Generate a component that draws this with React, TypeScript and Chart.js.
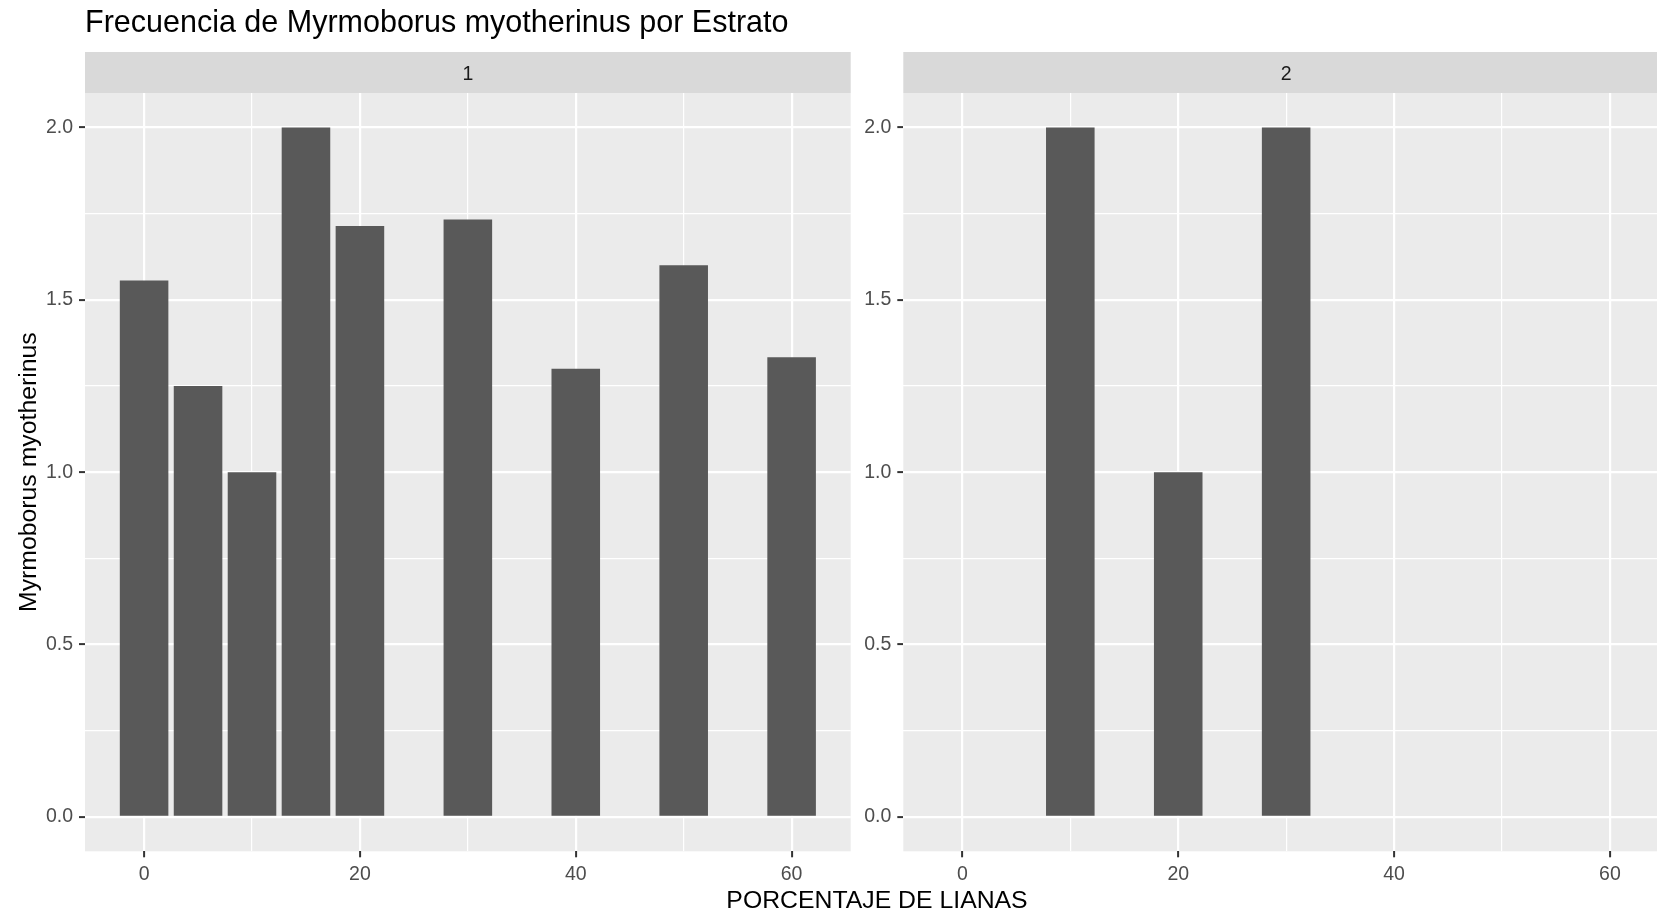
import React, { useEffect, useRef } from "react";
import { Chart, registerables } from "chart.js";

Chart.register(...registerables);

// ---------- data ----------
const TITLE = "Frecuencia de Myrmoborus myotherinus por Estrato";
const X_TITLE = "PORCENTAJE DE LIANAS";
const Y_TITLE = "Myrmoborus myotherinus";
const PANEL_LABELS = ["1", "2"];

const panel1X = [0, 5, 10, 15, 20, 30, 40, 50, 60];
const panel1Y = [1.556, 1.25, 1.0, 2.0, 1.714, 1.733, 1.3, 1.6, 1.333];

const panel2X = [10, 20, 30];
const panel2Y = [2.0, 1.0, 2.0];

const xGridValues = [0, 10, 20, 30, 40, 50, 60];
const xLabelValues = [0, 20, 40, 60];
const yGridValues = [0, 0.25, 0.5, 0.75, 1, 1.25, 1.5, 1.75, 2];
const yLabelValues = [0, 0.5, 1, 1.5, 2];

const X_MIN = -5.475;
const X_MAX = 65.475;
const Y_MIN = -0.1;
const Y_MAX = 2.1;
const BAR_WIDTH = 4.5;

// ---------- style ----------
const FONT = "'Liberation Sans', Arial, sans-serif";
const PANEL_BG = "#EBEBEB";
const STRIP_BG = "#D9D9D9";
const BAR_COLOR = "#595959";
const TICK_TEXT = "#4D4D4D";
const TICK_MARK = "#333333";

const W = 1657;
const H = 917;
const AREA_TOP = 93;
const AREA_BOTTOM = 851.3;

function minGap(values: number[], step: number) {
  let m = step;
  for (let i = 1; i < values.length; i++) m = Math.min(m, values[i] - values[i - 1]);
  return m;
}

function makePlugin(strip: string, drawTitles: boolean) {
  return {
    id: "facet" + strip,
    beforeDraw(chart: any) {
      const { ctx, chartArea } = chart;
      const { left, right, top, bottom } = chartArea;
      ctx.save();
      ctx.fillStyle = PANEL_BG;
      ctx.fillRect(left, top, right - left, bottom - top);
      ctx.fillStyle = STRIP_BG;
      ctx.fillRect(left, top - 41, right - left, 41);
      ctx.fillStyle = "#1A1A1A";
      ctx.font = `19.5px ${FONT}`;
      ctx.textAlign = "center";
      ctx.textBaseline = "alphabetic";
      ctx.fillText(strip, (left + right) / 2, top - 13.5);
      if (drawTitles) {
        ctx.fillStyle = "#000000";
        ctx.textAlign = "left";
        ctx.font = `30.5px ${FONT}`;
        ctx.fillText(TITLE, left, 32);
        ctx.font = `24.8px ${FONT}`;
        ctx.textAlign = "center";
        ctx.fillText(X_TITLE, 877, 908);
        ctx.save();
        ctx.translate(36, (top + bottom) / 2);
        ctx.rotate(-Math.PI / 2);
        ctx.fillText(Y_TITLE, 0, 0);
        ctx.restore();
      }
      ctx.restore();
    },
  };
}

function makeConfig(xs: number[], ys: number[], strip: string, yAxisWidth: number, padRight: number, drawTitles: boolean) {
  const gap = minGap(xs, 10);
  return {
    type: "bar" as const,
    data: {
      datasets: [
        {
          data: xs.map((x, i) => ({ x, y: ys[i] })),
          backgroundColor: BAR_COLOR,
          borderWidth: 0,
          categoryPercentage: 1,
          barPercentage: BAR_WIDTH / gap,
        },
      ],
    },
    options: {
      responsive: false,
      maintainAspectRatio: false,
      animation: false,
      layout: { padding: { left: 0, right: padRight, top: AREA_TOP, bottom: 0 } },
      plugins: { legend: { display: false }, tooltip: { enabled: false }, title: { display: false } },
      scales: {
        x: {
          type: "linear",
          min: X_MIN,
          max: X_MAX,
          offset: false,
          afterBuildTicks: (scale: any) => {
            scale.ticks = xGridValues.map((v) => ({ value: v }));
          },
          afterFit: (scale: any) => {
            scale.height = H - AREA_BOTTOM;
          },
          border: { display: false },
          grid: {
            offset: false,
            color: "#FFFFFF",
            lineWidth: (c: any) => (xLabelValues.includes(c.tick?.value) ? 2.2 : 1.2),
            drawTicks: true,
            tickLength: 6,
            tickWidth: 2,
            tickColor: (c: any) => (xLabelValues.includes(c.tick?.value) ? TICK_MARK : "rgba(0,0,0,0)"),
          },
          ticks: {
            autoSkip: false,
            maxRotation: 0,
            padding: 6,
            color: TICK_TEXT,
            font: { family: FONT, size: 19.5 },
            callback: (v: any) => (xLabelValues.includes(v) ? String(v) : ""),
          },
        },
        y: {
          type: "linear",
          min: Y_MIN,
          max: Y_MAX,
          afterBuildTicks: (scale: any) => {
            scale.ticks = yGridValues.map((v) => ({ value: v }));
          },
          afterFit: (scale: any) => {
            scale.width = yAxisWidth;
          },
          border: { display: false },
          grid: {
            color: "#FFFFFF",
            lineWidth: (c: any) => (yLabelValues.includes(c.tick?.value) ? 2.2 : 1.2),
            drawTicks: true,
            tickLength: 6,
            tickWidth: 2,
            tickColor: (c: any) => (yLabelValues.includes(c.tick?.value) ? TICK_MARK : "rgba(0,0,0,0)"),
          },
          ticks: {
            autoSkip: false,
            padding: 6,
            color: TICK_TEXT,
            font: { family: FONT, size: 19.5 },
            callback: (v: any) => (yLabelValues.includes(v) ? Number(v).toFixed(1) : ""),
          },
        },
      },
    },
    plugins: [makePlugin(strip, drawTitles)],
  };
}

export default function App() {
  const ref1 = useRef<HTMLCanvasElement | null>(null);
  const ref2 = useRef<HTMLCanvasElement | null>(null);

  useEffect(() => {
    const c1 = new Chart(ref1.current as HTMLCanvasElement, makeConfig(panel1X, panel1Y, PANEL_LABELS[0], 85, W - 850.7, true) as any);
    const c2 = new Chart(ref2.current as HTMLCanvasElement, makeConfig(panel2X, panel2Y, PANEL_LABELS[1], 43.3, 820 - 809, false) as any);
    return () => {
      c1.destroy();
      c2.destroy();
    };
  }, []);

  return (
    <div
      style={{
        position: "fixed",
        left: 0,
        top: 0,
        width: W,
        height: H,
        overflow: "hidden",
        background: "#FFFFFF",
      }}
    >
      <canvas ref={ref1} width={W} height={H} style={{ position: "absolute", left: 0, top: 0, width: W, height: H }} />
      <canvas ref={ref2} width={820} height={H} style={{ position: "absolute", left: 860, top: 0, width: 820, height: H }} />
    </div>
  );
}
